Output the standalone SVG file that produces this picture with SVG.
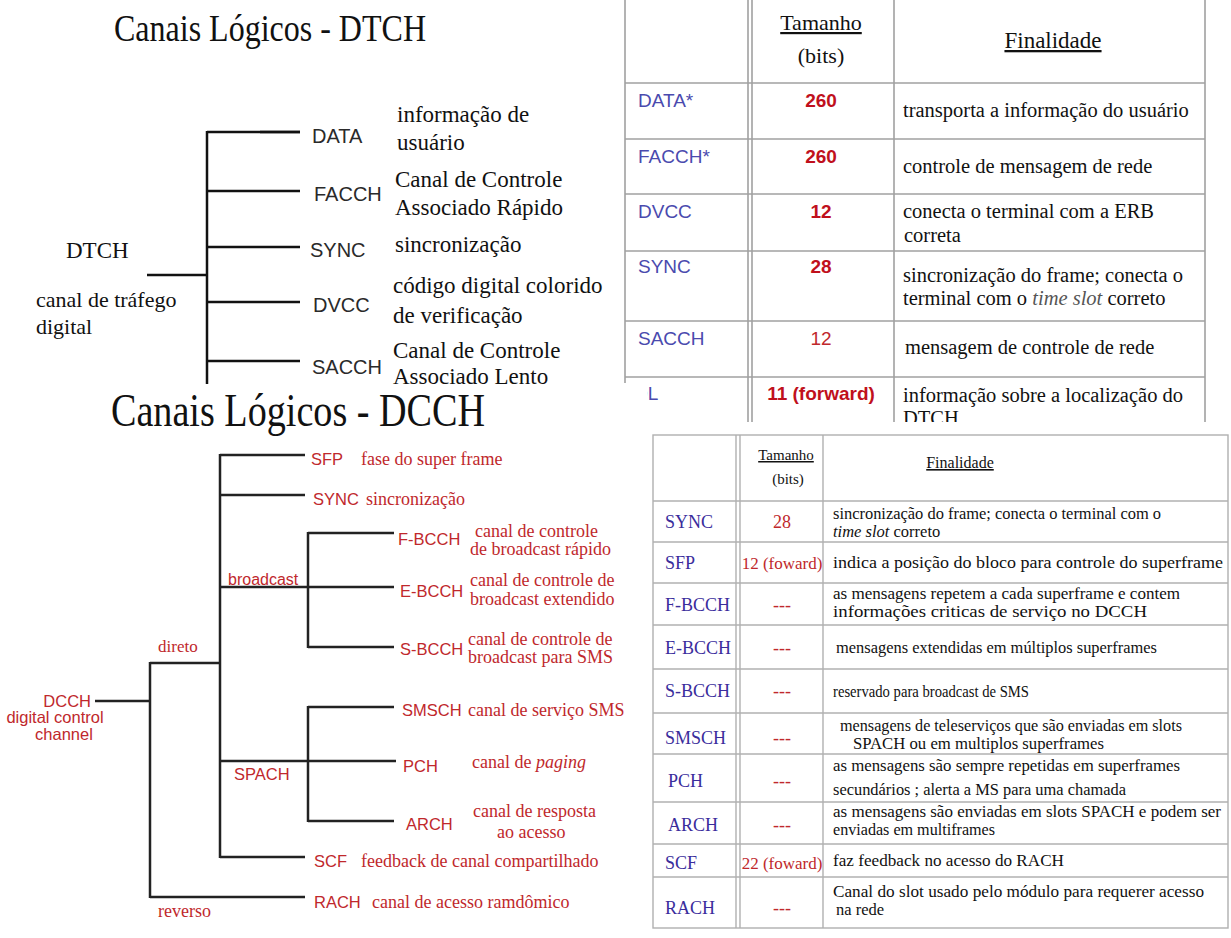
<svg xmlns="http://www.w3.org/2000/svg" width="1231" height="938" viewBox="0 0 1231 938">
<defs>
<style>
.ser{font-family:"Liberation Serif","Times New Roman",serif}
.san{font-family:"Liberation Sans",Arial,sans-serif}
.ln{stroke:#111;stroke-width:2.5;fill:none}
.ln2{stroke:#222;stroke-width:2.5;fill:none}
.grid{stroke:#a0a0a0;stroke-width:1.6;fill:none}
.grid2{stroke:#b0b0b0;stroke-width:1.4;fill:none}
.k{fill:#111}
.gk{fill:#2a2a2a}
.red{fill:#c0282c}
.blue{fill:#4a4aae}
.navy{fill:#3a2d9c}
.rb{fill:#c0101c;font-weight:bold}
.lbl{font-size:20px}
.dsc{font-size:23px}
.bl{font-size:16.5px}
.bd{font-size:18px}
.td{font-size:20.5px}
.tl{font-size:19px}
.bt{font-size:16.5px}
.btl{font-size:18px}
</style>
<clipPath id="clipTL"><rect x="0" y="0" width="615" height="384"/></clipPath>
<clipPath id="clipTR"><rect x="615" y="0" width="616" height="422"/></clipPath>
</defs>
<rect width="1231" height="938" fill="#ffffff"/>

<!-- ===== Top-left: DTCH tree ===== -->
<g id="dtch-tree" clip-path="url(#clipTL)">
  <text id="title-dtch" class="ser k" x="114" y="41" font-size="37" textLength="312" lengthAdjust="spacingAndGlyphs">Canais Lógicos - DTCH</text>
  <g id="dtch-connectors">
    <line class="ln" x1="147" y1="275" x2="208" y2="275"/>
    <line class="ln" x1="207" y1="131" x2="207" y2="390"/>
    <line class="ln" x1="207" y1="132" x2="300" y2="132"/>
    <line class="ln" x1="260" y1="132" x2="300" y2="132" stroke-width="3.5"/>
    <line class="ln" x1="207" y1="191" x2="300" y2="191"/>
    <line class="ln" x1="207" y1="247" x2="300" y2="247"/>
    <line class="ln" x1="207" y1="302" x2="300" y2="302"/>
    <line class="ln" x1="207" y1="361" x2="300" y2="361"/>
  </g>
  <g id="node-dtch">
    <text class="ser k" x="66" y="258" font-size="23">DTCH</text>
    <text class="ser k" x="36" y="307" font-size="22">canal de tráfego</text>
    <text class="ser k" x="36" y="334" font-size="22">digital</text>
  </g>
  <g id="node-data">
    <text class="san gk lbl" x="312" y="143">DATA</text>
    <text class="ser k dsc" x="397" y="122">informação de</text>
    <text class="ser k dsc" x="397" y="150">usuário</text>
  </g>
  <g id="node-facch">
    <text class="san gk lbl" x="314" y="201">FACCH</text>
    <text class="ser k dsc" x="395" y="187">Canal de Controle</text>
    <text class="ser k dsc" x="395" y="215">Associado Rápido</text>
  </g>
  <g id="node-sync">
    <text class="san gk lbl" x="310" y="257">SYNC</text>
    <text class="ser k dsc" x="395" y="252">sincronização</text>
  </g>
  <g id="node-dvcc">
    <text class="san gk lbl" x="313" y="312">DVCC</text>
    <text class="ser k dsc" x="393" y="293">código digital colorido</text>
    <text class="ser k dsc" x="393" y="323">de verificação</text>
  </g>
  <g id="node-sacch">
    <text class="san gk lbl" x="312" y="374">SACCH</text>
    <text class="ser k dsc" x="393" y="358">Canal de Controle</text>
    <text class="ser k dsc" x="393" y="384">Associado Lento</text>
  </g>
</g>

<!-- ===== Top-right: DTCH table ===== -->
<g id="dtch-table" clip-path="url(#clipTR)">
  <g id="dtch-table-grid">
    <line class="grid" x1="625" y1="0" x2="625" y2="383"/>
    <line class="grid" x1="748" y1="0" x2="748" y2="430"/>
    <line class="grid" x1="752" y1="0" x2="752" y2="430"/>
    <line class="grid" x1="894" y1="0" x2="894" y2="430"/>
    <line class="grid" x1="1205" y1="0" x2="1205" y2="430"/>
    <line class="grid" x1="625" y1="83" x2="1205" y2="83"/>
    <line class="grid" x1="625" y1="139" x2="1205" y2="139"/>
    <line class="grid" x1="625" y1="194" x2="1205" y2="194"/>
    <line class="grid" x1="625" y1="251" x2="1205" y2="251"/>
    <line class="grid" x1="625" y1="321" x2="1205" y2="321"/>
    <line class="grid" x1="625" y1="377" x2="1205" y2="377"/>
  </g>
  <g id="dtch-table-header">
    <text class="ser k" x="821" y="30" font-size="22" text-anchor="middle" text-decoration="underline">Tamanho</text>
    <text class="ser k" x="821" y="63" font-size="22" text-anchor="middle">(bits)</text>
    <text class="ser k" x="1053" y="48" font-size="23" text-anchor="middle" text-decoration="underline">Finalidade</text>
  </g>
  <g id="row-data">
    <text class="san blue tl" x="638" y="107">DATA*</text>
    <text class="san rb tl" x="821" y="107" text-anchor="middle">260</text>
    <text class="ser k td" x="903" y="117">transporta a informação do usuário</text>
  </g>
  <g id="row-facch">
    <text class="san blue tl" x="638" y="163">FACCH*</text>
    <text class="san rb tl" x="821" y="163" text-anchor="middle">260</text>
    <text class="ser k td" x="903" y="173">controle de mensagem de rede</text>
  </g>
  <g id="row-dvcc">
    <text class="san blue tl" x="638" y="218">DVCC</text>
    <text class="san rb tl" x="821" y="218" text-anchor="middle">12</text>
    <text class="ser k td" x="903" y="218">conecta o terminal com a ERB</text>
    <text class="ser k td" x="904" y="242">correta</text>
  </g>
  <g id="row-sync">
    <text class="san blue tl" x="638" y="273">SYNC</text>
    <text class="san rb tl" x="821" y="273" text-anchor="middle">28</text>
    <text class="ser k td" x="903" y="282">sincronização do frame; conecta o</text>
    <text class="ser k td" x="903" y="305">terminal com o <tspan font-style="italic" fill="#555"> time slot </tspan> correto</text>
  </g>
  <g id="row-sacch">
    <text class="san blue tl" x="638" y="345">SACCH</text>
    <text class="san tl" fill="#c0282c" x="821" y="345" text-anchor="middle">12</text>
    <text class="ser k td" x="905" y="354">mensagem de controle de rede</text>
  </g>
  <g id="row-dl">
    <text class="san blue tl" x="634" y="400">DL</text>
    <text class="san rb tl" x="821" y="400" text-anchor="middle">11 (forward)</text>
    <text class="ser k td" x="903" y="402">informação sobre a localização do</text>
    <text class="ser k td" x="903" y="425">DTCH</text>
  </g>
  <rect x="612" y="383" width="35" height="45" fill="#ffffff"/>
</g>

<!-- ===== Bottom-left: DCCH tree ===== -->
<g id="dcch-tree">
  <text id="title-dcch" class="ser k" x="111" y="426" font-size="47" textLength="374" lengthAdjust="spacingAndGlyphs">Canais Lógicos - DCCH</text>
  <g id="dcch-connectors">
    <line class="ln2" x1="95" y1="701" x2="150" y2="701"/>
    <line class="ln2" x1="150" y1="662" x2="150" y2="898"/>
    <line class="ln2" x1="150" y1="663" x2="220" y2="663"/>
    <line class="ln2" x1="150" y1="897" x2="305" y2="897"/>
    <line class="ln2" x1="220" y1="454" x2="220" y2="858"/>
    <line class="ln2" x1="220" y1="455" x2="305" y2="455"/>
    <line class="ln2" x1="220" y1="495" x2="305" y2="495"/>
    <line class="ln2" x1="220" y1="587" x2="394" y2="587"/>
    <line class="ln2" x1="308" y1="532" x2="308" y2="648"/>
    <line class="ln2" x1="308" y1="533" x2="394" y2="533"/>
    <line class="ln2" x1="308" y1="647" x2="394" y2="647"/>
    <line class="ln2" x1="220" y1="761" x2="396" y2="761"/>
    <line class="ln2" x1="308" y1="706" x2="308" y2="822"/>
    <line class="ln2" x1="308" y1="707" x2="394" y2="707"/>
    <line class="ln2" x1="308" y1="821" x2="394" y2="821"/>
    <line class="ln2" x1="220" y1="857" x2="305" y2="857"/>
  </g>
  <g id="node-dcch">
    <text class="san red bl" x="91" y="707" text-anchor="end">DCCH</text>
    <text class="san red bl" x="55" y="723" text-anchor="middle">digital control</text>
    <text class="san red bl" x="64" y="740" text-anchor="middle">channel</text>
  </g>
  <g id="node-direto"><text class="ser red" x="158" y="652" font-size="17">direto</text></g>
  <g id="node-reverso"><text class="ser red" x="158" y="917" font-size="18">reverso</text></g>
  <g id="node-broadcast"><text class="san red" x="228" y="585" font-size="16">broadcast</text></g>
  <g id="node-spach"><text class="san red" x="234" y="780" font-size="16.5">SPACH</text></g>
  <g id="node-sfp">
    <text class="san red bl" x="311" y="465">SFP</text>
    <text class="ser red bd" x="361" y="465">fase do super frame</text>
  </g>
  <g id="node-sync2">
    <text class="san red bl" x="313" y="505">SYNC</text>
    <text class="ser red bd" x="366" y="505">sincronização</text>
  </g>
  <g id="node-fbcch">
    <text class="san red bl" x="398" y="545">F-BCCH</text>
    <text class="ser red bd" x="475" y="537">canal de controle</text>
    <text class="ser red bd" x="470" y="555">de broadcast rápido</text>
  </g>
  <g id="node-ebcch">
    <text class="san red bl" x="400" y="597">E-BCCH</text>
    <text class="ser red bd" x="470" y="586">canal de controle de</text>
    <text class="ser red bd" x="470" y="605">broadcast extendido</text>
  </g>
  <g id="node-sbcch">
    <text class="san red bl" x="400" y="655">S-BCCH</text>
    <text class="ser red bd" x="468" y="645">canal de controle de</text>
    <text class="ser red bd" x="468" y="663">broadcast para SMS</text>
  </g>
  <g id="node-smsch">
    <text class="san red bl" x="402" y="716">SMSCH</text>
    <text class="ser red bd" x="468" y="716">canal de serviço SMS</text>
  </g>
  <g id="node-pch">
    <text class="san red bl" x="403" y="772">PCH</text>
    <text class="ser red bd" x="472" y="768">canal de <tspan font-style="italic">paging</tspan></text>
  </g>
  <g id="node-arch">
    <text class="san red bl" x="406" y="830">ARCH</text>
    <text class="ser red bd" x="473" y="817">canal de resposta</text>
    <text class="ser red bd" x="497" y="838">ao acesso</text>
  </g>
  <g id="node-scf">
    <text class="san red bl" x="314" y="867">SCF</text>
    <text class="ser red bd" x="361" y="867">feedback de canal compartilhado</text>
  </g>
  <g id="node-rach">
    <text class="san red bl" x="314" y="908">RACH</text>
    <text class="ser red bd" x="372" y="908">canal de acesso ramdômico</text>
  </g>
</g>

<!-- ===== Bottom-right: DCCH table ===== -->
<g id="dcch-table">
  <g id="dcch-table-grid">
    <rect class="grid2" x="653" y="435" width="575" height="493"/>
    <line class="grid2" x1="736" y1="435" x2="736" y2="928"/>
    <line class="grid2" x1="740" y1="435" x2="740" y2="928"/>
    <line class="grid2" x1="823" y1="435" x2="823" y2="928"/>
    <line class="grid2" x1="653" y1="501" x2="1228" y2="501"/>
    <line class="grid2" x1="653" y1="542" x2="1228" y2="542"/>
    <line class="grid2" x1="653" y1="583" x2="1228" y2="583"/>
    <line class="grid2" x1="653" y1="625" x2="1228" y2="625"/>
    <line class="grid2" x1="653" y1="669" x2="1228" y2="669"/>
    <line class="grid2" x1="653" y1="713" x2="1228" y2="713"/>
    <line class="grid2" x1="653" y1="754" x2="1228" y2="754"/>
    <line class="grid2" x1="653" y1="802" x2="1228" y2="802"/>
    <line class="grid2" x1="653" y1="844" x2="1228" y2="844"/>
    <line class="grid2" x1="653" y1="877" x2="1228" y2="877"/>
  </g>
  <g id="dcch-table-header">
    <text class="ser k" x="786" y="460" font-size="15" text-anchor="middle" text-decoration="underline">Tamanho</text>
    <text class="ser k" x="788" y="484" font-size="15" text-anchor="middle">(bits)</text>
    <text class="ser k" x="960" y="468" font-size="16" text-anchor="middle" text-decoration="underline">Finalidade</text>
  </g>
  <g id="trow-sync">
    <text class="ser navy btl" x="665" y="528">SYNC</text>
    <text class="ser red btl" x="782" y="528" text-anchor="middle">28</text>
    <text class="ser k bt" x="833" y="519" textLength="328" lengthAdjust="spacingAndGlyphs">sincronização do frame; conecta o terminal com o</text>
    <text class="ser k bt" x="833" y="537"><tspan font-style="italic">time slot</tspan>  correto</text>
  </g>
  <g id="trow-sfp">
    <text class="ser navy btl" x="665" y="569">SFP</text>
    <text class="ser red" font-size="17" x="782" y="569" text-anchor="middle">12 (foward)</text>
    <text class="ser k bt" x="833" y="568" textLength="390" lengthAdjust="spacingAndGlyphs">indica a posição do bloco para controle do superframe</text>
  </g>
  <g id="trow-fbcch">
    <text class="ser navy btl" x="665" y="611">F-BCCH</text>
    <text class="ser red btl" x="782" y="611" text-anchor="middle">---</text>
    <text class="ser k bt" x="833" y="599" textLength="347" lengthAdjust="spacingAndGlyphs">as mensagens repetem a cada superframe e contem</text>
    <text class="ser k bt" x="833" y="617" textLength="314" lengthAdjust="spacingAndGlyphs">informações  criticas de serviço no DCCH</text>
  </g>
  <g id="trow-ebcch">
    <text class="ser navy btl" x="665" y="654">E-BCCH</text>
    <text class="ser red btl" x="782" y="654" text-anchor="middle">---</text>
    <text class="ser k bt" x="836" y="653" textLength="321" lengthAdjust="spacingAndGlyphs">mensagens extendidas em múltiplos superframes</text>
  </g>
  <g id="trow-sbcch">
    <text class="ser navy btl" x="665" y="697">S-BCCH</text>
    <text class="ser red btl" x="782" y="697" text-anchor="middle">---</text>
    <text class="ser k bt" x="833" y="697" textLength="196" lengthAdjust="spacingAndGlyphs">reservado para broadcast de SMS</text>
  </g>
  <g id="trow-smsch">
    <text class="ser navy btl" x="665" y="744">SMSCH</text>
    <text class="ser red btl" x="782" y="744" text-anchor="middle">---</text>
    <text class="ser k bt" x="840" y="731" textLength="342" lengthAdjust="spacingAndGlyphs">mensagens de teleserviços que são enviadas em slots</text>
    <text class="ser k bt" x="853" y="749" textLength="251" lengthAdjust="spacingAndGlyphs">SPACH ou em multiplos superframes</text>
  </g>
  <g id="trow-pch">
    <text class="ser navy btl" x="668" y="787">PCH</text>
    <text class="ser red btl" x="782" y="787" text-anchor="middle">---</text>
    <text class="ser k bt" x="833" y="771" textLength="347" lengthAdjust="spacingAndGlyphs">as mensagens são sempre repetidas em superframes</text>
    <text class="ser k bt" x="833" y="795" textLength="293" lengthAdjust="spacingAndGlyphs">secundários ; alerta a MS para uma chamada</text>
  </g>
  <g id="trow-arch">
    <text class="ser navy btl" x="668" y="831">ARCH</text>
    <text class="ser red btl" x="782" y="831" text-anchor="middle">---</text>
    <text class="ser k bt" x="833" y="817" textLength="388" lengthAdjust="spacingAndGlyphs">as mensagens são enviadas em  slots SPACH e podem ser</text>
    <text class="ser k bt" x="833" y="835" textLength="162" lengthAdjust="spacingAndGlyphs">enviadas em multiframes</text>
  </g>
  <g id="trow-scf">
    <text class="ser navy btl" x="665" y="869">SCF</text>
    <text class="ser red" font-size="17" x="782" y="869" text-anchor="middle">22 (foward)</text>
    <text class="ser k bt" x="833" y="866" textLength="231" lengthAdjust="spacingAndGlyphs">faz feedback no acesso do RACH</text>
  </g>
  <g id="trow-rach">
    <text class="ser navy btl" x="665" y="914">RACH</text>
    <text class="ser red btl" x="782" y="914" text-anchor="middle">---</text>
    <text class="ser k bt" x="833" y="897" textLength="371" lengthAdjust="spacingAndGlyphs">Canal do slot usado pelo módulo para requerer acesso</text>
    <text class="ser k bt" x="836" y="915">na rede</text>
  </g>
</g>
</svg>
